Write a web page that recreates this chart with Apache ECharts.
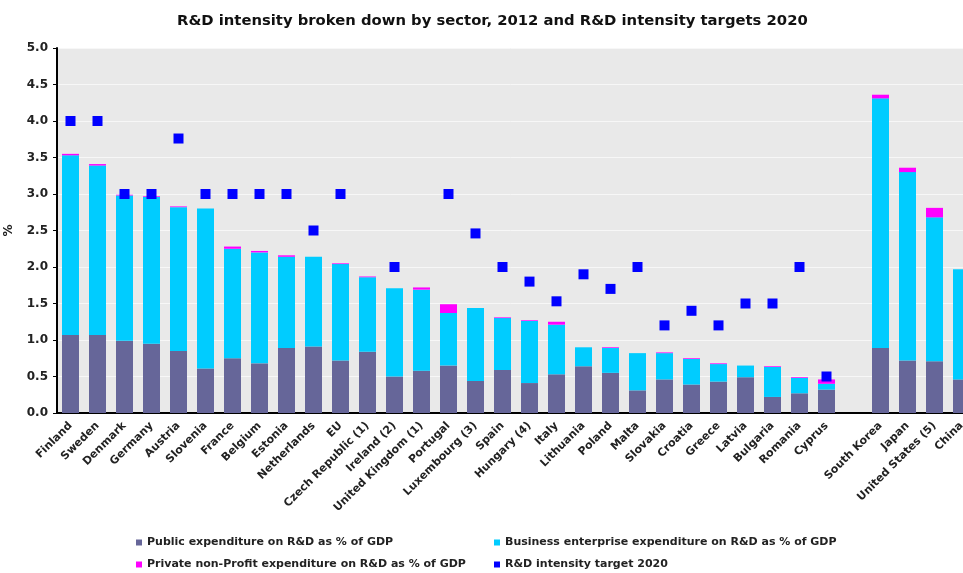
<!DOCTYPE html>
<html>
<head>
<meta charset="utf-8">
<script src="https://cdn.jsdelivr.net/npm/echarts@6/dist/echarts.min.js"></script>
<style>
html,body{margin:0;padding:0;background:#fff;overflow:hidden;}
#chart{width:963px;height:573px;}
</style>
</head>
<body>
<div id="chart"></div>
<script>
const categories = ['Finland','Sweden','Denmark','Germany','Austria','Slovenia','France','Belgium','Estonia','Netherlands','EU','Czech Republic (1)','Ireland (2)','United Kingdom (1)','Portugal','Luxembourg (3)','Spain','Hungary (4)','Italy','Lithuania','Poland','Malta','Slovakia','Croatia','Greece','Latvia','Bulgaria','Romania','Cyprus','','South Korea','Japan','United States (5)','China'];
const publicExp = [1.07,1.07,0.99,0.95,0.85,0.61,0.75,0.68,0.89,0.91,0.72,0.84,0.50,0.58,0.65,0.44,0.59,0.41,0.53,0.64,0.55,0.31,0.46,0.39,0.43,0.49,0.22,0.27,0.32,null,0.89,0.72,0.71,0.46];
const businessExp = [2.46,2.32,1.99,2.01,1.97,2.19,1.50,1.52,1.25,1.23,1.32,1.02,1.21,1.11,0.72,1.00,0.71,0.85,0.68,0.26,0.34,0.51,0.36,0.35,0.24,0.16,0.41,0.21,0.08,null,3.42,2.58,1.97,1.51];
const privateExp = [0.02,0.02,0.01,0.01,0.01,0.00,0.03,0.02,0.02,0.00,0.01,0.01,0.00,0.03,0.12,0.00,0.01,0.01,0.04,0.00,0.01,0.00,0.01,0.01,0.01,0.00,0.01,0.01,0.06,null,0.05,0.06,0.13,0.00];
const target2020 = [4.0,4.0,3.0,3.0,3.76,3.0,3.0,3.0,3.0,2.5,3.0,null,2.0,null,3.0,2.46,2.0,1.8,1.53,1.9,1.7,2.0,1.2,1.4,1.2,1.5,1.5,2.0,0.5,null,null,null,null,null];
const yTicks = [0,0.5,1,1.5,2,2.5,3,3.5,4,4.5,5];
const seriesNames = ['Public expenditure on R&D as % of GDP','Business enterprise expenditure on R&D as % of GDP','Private non-Profit expenditure on R&D as % of GDP','R&D intensity target 2020'];
const colors = ['#666699','#00CCFF','#FF00FF','#0000FF'];

const font = '"DejaVu Sans", "Liberation Sans", Arial, sans-serif';
const chart = echarts.init(document.getElementById('chart'));
const legendText = {fontFamily: font, fontWeight: 'bold', fontSize: 11, color: '#222'};
function lg(name, left, top){
  return {data:[name], left:left, top:top, icon:'rect', itemWidth:6, itemHeight:6, itemGap:0, textStyle:legendText, padding:0, selectedMode:false};
}
chart.setOption({
  animation:false,
  backgroundColor:'#ffffff',
  title:{text:'R&D intensity broken down by sector, 2012 and R&D intensity targets 2020', left:172, top:9,
    textStyle:{fontFamily:font, fontWeight:'bold', fontSize:14.8, color:'#111'}},
  legend:[lg(seriesNames[0],136,537), lg(seriesNames[1],494,537), lg(seriesNames[2],136,559), lg(seriesNames[3],494,559)],
  grid:{left:57, top:48, width:918, height:365, show:true, backgroundColor:'#E9E9E9', borderWidth:0, containLabel:false, outerBoundsMode:'none'},
  xAxis:{type:'category', data:categories,
    axisLine:{lineStyle:{color:'#000', width:2}}, axisTick:{show:false},
    axisLabel:{rotate:45, interval:0, margin:11, fontFamily:font, fontWeight:'bold', fontSize:11, color:'#222'}},
  yAxis:{type:'value', min:0, max:5, interval:0.5, name:'%', nameLocation:'middle', nameGap:42, nameRotate:90, nameMoveOverlap:false,
    nameTextStyle:{fontFamily:font, fontWeight:'bold', fontSize:12, color:'#222'},
    axisLine:{show:true, lineStyle:{color:'#000', width:2}},
    axisTick:{show:true, length:4, lineStyle:{color:'#000'}},
    axisLabel:{formatter:v=>v.toFixed(1), fontFamily:font, fontWeight:'bold', fontSize:12, color:'#222', margin:9},
    splitLine:{lineStyle:{color:'#F7F7F7', width:1}}},
  series:[
    {name:seriesNames[0], type:'bar', stack:'t', data:publicExp, barWidth:17, itemStyle:{color:colors[0]}},
    {name:seriesNames[1], type:'bar', stack:'t', data:businessExp, barWidth:17, itemStyle:{color:colors[1]}},
    {name:seriesNames[2], type:'bar', stack:'t', data:privateExp, barWidth:17, itemStyle:{color:colors[2]}},
    {name:seriesNames[3], type:'scatter', data:target2020, symbol:'rect', symbolSize:10, itemStyle:{color:colors[3], opacity:1}, z:5}
  ]
});
</script>
</body>
</html>
